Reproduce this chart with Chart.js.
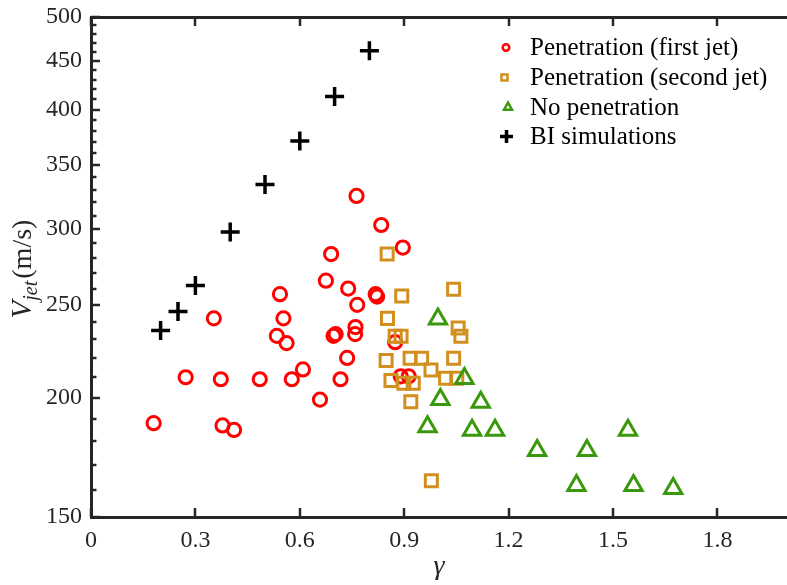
<!DOCTYPE html>
<html>
<head>
<meta charset="utf-8">
<script src="https://cdn.jsdelivr.net/npm/chart.js@4.4.1/dist/chart.umd.min.js"></script>
<style>
  html, body { margin: 0; padding: 0; background: #fff; overflow: hidden; }
  #wrap { width: 800px; height: 585px; }
</style>
</head>
<body>
<div id="wrap"><canvas id="c" width="800" height="585"></canvas></div>
<script>
// ---- data (gamma, V_jet in m/s) ----
const firstJetGamma = [0.180, 0.272, 0.353, 0.373, 0.378, 0.411, 0.485, 0.534, 0.543, 0.553, 0.562, 0.577, 0.609, 0.658, 0.675, 0.690, 0.697, 0.703, 0.717, 0.736, 0.739, 0.760, 0.759, 0.765, 0.763, 0.818, 0.822, 0.834, 0.874, 0.896, 0.890, 0.913];
const firstJetV     = [188, 210, 242, 209, 187, 185, 209, 232, 256.5, 242, 228, 209, 214, 199, 265, 282.5, 232, 233, 209, 220, 260, 237, 233, 250, 325, 256.5, 255, 303, 228.5, 287, 210.5, 210.5];

const secondJetGamma = [0.851, 0.893, 1.042, 0.852, 1.055, 1.063, 0.874, 0.891, 0.848, 0.917, 0.950, 1.042, 0.977, 0.862, 0.899, 0.926, 1.019, 1.051, 0.919, 0.978];
const secondJetV     = [282.5, 255.4, 259.6, 242, 236.4, 231.8, 231.8, 231.8, 218.6, 219.8, 219.8, 219.8, 213.7, 208.4, 207, 207, 209.5, 209.5, 198, 163.7];

const noPenGamma = [0.997, 1.073, 1.004, 1.120, 0.967, 1.095, 1.161, 1.282, 1.425, 1.543, 1.395, 1.559, 1.673];
const noPenV     = [241.6, 209.4, 199.0, 197.7, 186.4, 184.9, 184.9, 176.0, 176.0, 184.9, 161.8, 161.8, 160.7];

const biGamma = [0.2, 0.25, 0.3, 0.4, 0.5, 0.6, 0.7, 0.8];
const biV     = [235, 246, 262, 298, 334, 371, 413, 461];

const seriesNames = ['Penetration (first jet)', 'Penetration (second jet)', 'No penetration', 'BI simulations'];

const xTicks = [0, 0.3, 0.6, 0.9, 1.2, 1.5, 1.8];
const yTicks = [150,160,170,180,190,200,210,220,230,240,250,260,270,280,290,300,310,320,330,340,350,360,370,380,390,400,410,420,430,440,450,460,470,480,490,500];
const yTickLabels = [150, 200, 250, 300, 350, 400, 450, 500];

// ---- styles ----
const AXIS = '#262626';
const RED = '#ff0000';
const ORANGE = '#d28f1e';
const GREEN = '#3a980c';
const BLACK = '#000000';
const SERIF = '"Liberation Serif", "Times New Roman", serif';

const pts = (xs, ys) => xs.map((x, i) => ({ x: x, y: ys[i] }));

const inwardTicks = {
  id: 'inwardTicks',
  afterDraw(chart) {
    const { ctx, chartArea: a, scales } = chart;
    ctx.save();
    ctx.strokeStyle = AXIS;
    ctx.lineWidth = 2.5;
    ctx.lineCap = 'butt';
    scales.x.ticks.forEach(t => {
      const px = Math.round(scales.x.getPixelForValue(t.value));
      ctx.beginPath(); ctx.moveTo(px, a.bottom); ctx.lineTo(px, a.bottom - 9); ctx.stroke();
      ctx.beginPath(); ctx.moveTo(px, a.top); ctx.lineTo(px, a.top + 9); ctx.stroke();
    });
    scales.y.ticks.forEach(t => {
      const py = Math.round(scales.y.getPixelForValue(t.value));
      const len = yTickLabels.includes(t.value) ? 9 : 5.5;
      ctx.beginPath(); ctx.moveTo(a.left, py); ctx.lineTo(a.left + len, py); ctx.stroke();
    });
    ctx.restore();
  }
};

const axisTitles = {
  id: 'axisTitles',
  afterDraw(chart) {
    const { ctx, chartArea: a } = chart;
    ctx.save();
    ctx.fillStyle = AXIS;
    // x title
    ctx.font = 'italic 28px ' + SERIF;
    ctx.textAlign = 'center';
    ctx.textBaseline = 'alphabetic';
    ctx.fillText('\u03b3', (a.left + a.right) / 2, 574);
    // y title: V_{jet}(m/s)
    const parts = [
      { t: 'V', f: 'italic 29px ' + SERIF, dy: 0 },
      { t: 'jet', f: 'italic 20px ' + SERIF, dy: 6 },
      { t: '(m/s)', f: '28px ' + SERIF, dy: 0 }
    ];
    let total = 0;
    parts.forEach(p => { ctx.font = p.f; p.w = ctx.measureText(p.t).width; total += p.w; });
    total += 2;
    ctx.translate(31, 269);
    ctx.rotate(-Math.PI / 2);
    ctx.textAlign = 'left';
    let u = -total / 2;
    parts.forEach((p, i) => {
      ctx.font = p.f;
      ctx.fillText(p.t, u, p.dy);
      u += p.w + (i === 1 ? 2 : 0);
    });
    ctx.restore();
  }
};

const manualLegend = {
  id: 'manualLegend',
  afterDraw(chart) {
    const { ctx } = chart;
    const rows = [47.5, 77.5, 107, 136.5];
    ctx.save();
    ctx.font = '25px ' + SERIF;
    ctx.textAlign = 'left';
    ctx.textBaseline = 'middle';
    rows.forEach((y, i) => {
      ctx.fillStyle = '#000';
      ctx.fillText(seriesNames[i], 530, y + 1);
    });
    // circle
    ctx.lineWidth = 2.5;
    ctx.strokeStyle = RED;
    ctx.beginPath(); ctx.arc(506, rows[0], 3.3, 0, Math.PI * 2); ctx.stroke();
    // square
    ctx.strokeStyle = ORANGE;
    ctx.strokeRect(501.5, rows[1] - 3, 6, 6);
    // triangle
    ctx.strokeStyle = GREEN;
    ctx.beginPath();
    ctx.moveTo(508, rows[2] - 4.5); ctx.lineTo(512, rows[2] + 2.8); ctx.lineTo(504, rows[2] + 2.8); ctx.closePath(); ctx.stroke();
    // cross
    ctx.strokeStyle = BLACK;
    ctx.lineWidth = 3.5;
    ctx.beginPath();
    ctx.moveTo(500, rows[3]); ctx.lineTo(513, rows[3]);
    ctx.moveTo(506.5, rows[3] - 6.5); ctx.lineTo(506.5, rows[3] + 6.5);
    ctx.stroke();
    ctx.restore();
  }
};

new Chart(document.getElementById('c'), {
  type: 'scatter',
  data: {
    datasets: [
      { label: seriesNames[0], data: pts(firstJetGamma, firstJetV), pointStyle: 'circle', pointRadius: 6.6, pointHoverRadius: 6.6,
        borderColor: RED, backgroundColor: 'rgba(0,0,0,0)', borderWidth: 3, pointBorderWidth: 3, order: 4 },
      { label: seriesNames[1], data: pts(secondJetGamma, secondJetV), pointStyle: 'rect', pointRadius: 8.5, pointHoverRadius: 8.5,
        borderColor: ORANGE, backgroundColor: 'rgba(0,0,0,0)', borderWidth: 3, pointBorderWidth: 3, order: 3 },
      { label: seriesNames[2], data: pts(noPenGamma, noPenV), pointStyle: 'triangle', pointRadius: 10, pointHoverRadius: 10,
        borderColor: GREEN, backgroundColor: 'rgba(0,0,0,0)', borderWidth: 3, pointBorderWidth: 3, order: 2 },
      { label: seriesNames[3], data: pts(biGamma, biV), pointStyle: 'cross', pointRadius: 9.5, pointHoverRadius: 9.5,
        borderColor: BLACK, backgroundColor: BLACK, borderWidth: 3.5, pointBorderWidth: 3.5, order: 1 }
    ]
  },
  options: {
    responsive: false,
    animation: false,
    events: [],
    layout: { padding: { left: 0, top: 17, right: 6, bottom: 0 } },
    plugins: { legend: { display: false }, tooltip: { enabled: false }, title: { display: false } },
    scales: {
      x: {
        type: 'linear', position: 'bottom', min: 0, max: 2,
        afterBuildTicks: s => { s.ticks = xTicks.map(v => ({ value: v })); },
        afterFit: s => { s.height = 68; s.paddingLeft = 0; s.paddingRight = 0; },
        grid: { display: false, drawTicks: false },
        border: { display: true, color: AXIS, width: 3 },
        ticks: { autoSkip: false, maxRotation: 0, padding: 9, color: AXIS,
          font: { family: SERIF, size: 24 },
          callback: v => (v === 0 ? '0' : v.toFixed(1)) }
      },
      x2: {
        type: 'linear', position: 'top', min: 0, max: 2,
        afterFit: s => { s.height = 0; s.paddingLeft = 0; s.paddingRight = 0; },
        grid: { display: false, drawTicks: false },
        border: { display: true, color: AXIS, width: 3 },
        ticks: { display: false }
      },
      y: {
        type: 'logarithmic', position: 'left', min: 150, max: 500,
        afterBuildTicks: s => { s.ticks = yTicks.map(v => ({ value: v, major: yTickLabels.includes(v) })); },
        afterFit: s => { s.width = 91; s.paddingTop = 0; s.paddingBottom = 0; },
        grid: { display: false, drawTicks: false },
        border: { display: true, color: AXIS, width: 3 },
        ticks: { autoSkip: false, padding: 9, color: AXIS,
          font: { family: SERIF, size: 24 },
          callback: v => (yTickLabels.includes(v) ? String(v) : '') }
      }
    }
  },
  plugins: [inwardTicks, axisTitles, manualLegend]
});
</script>
</body>
</html>
